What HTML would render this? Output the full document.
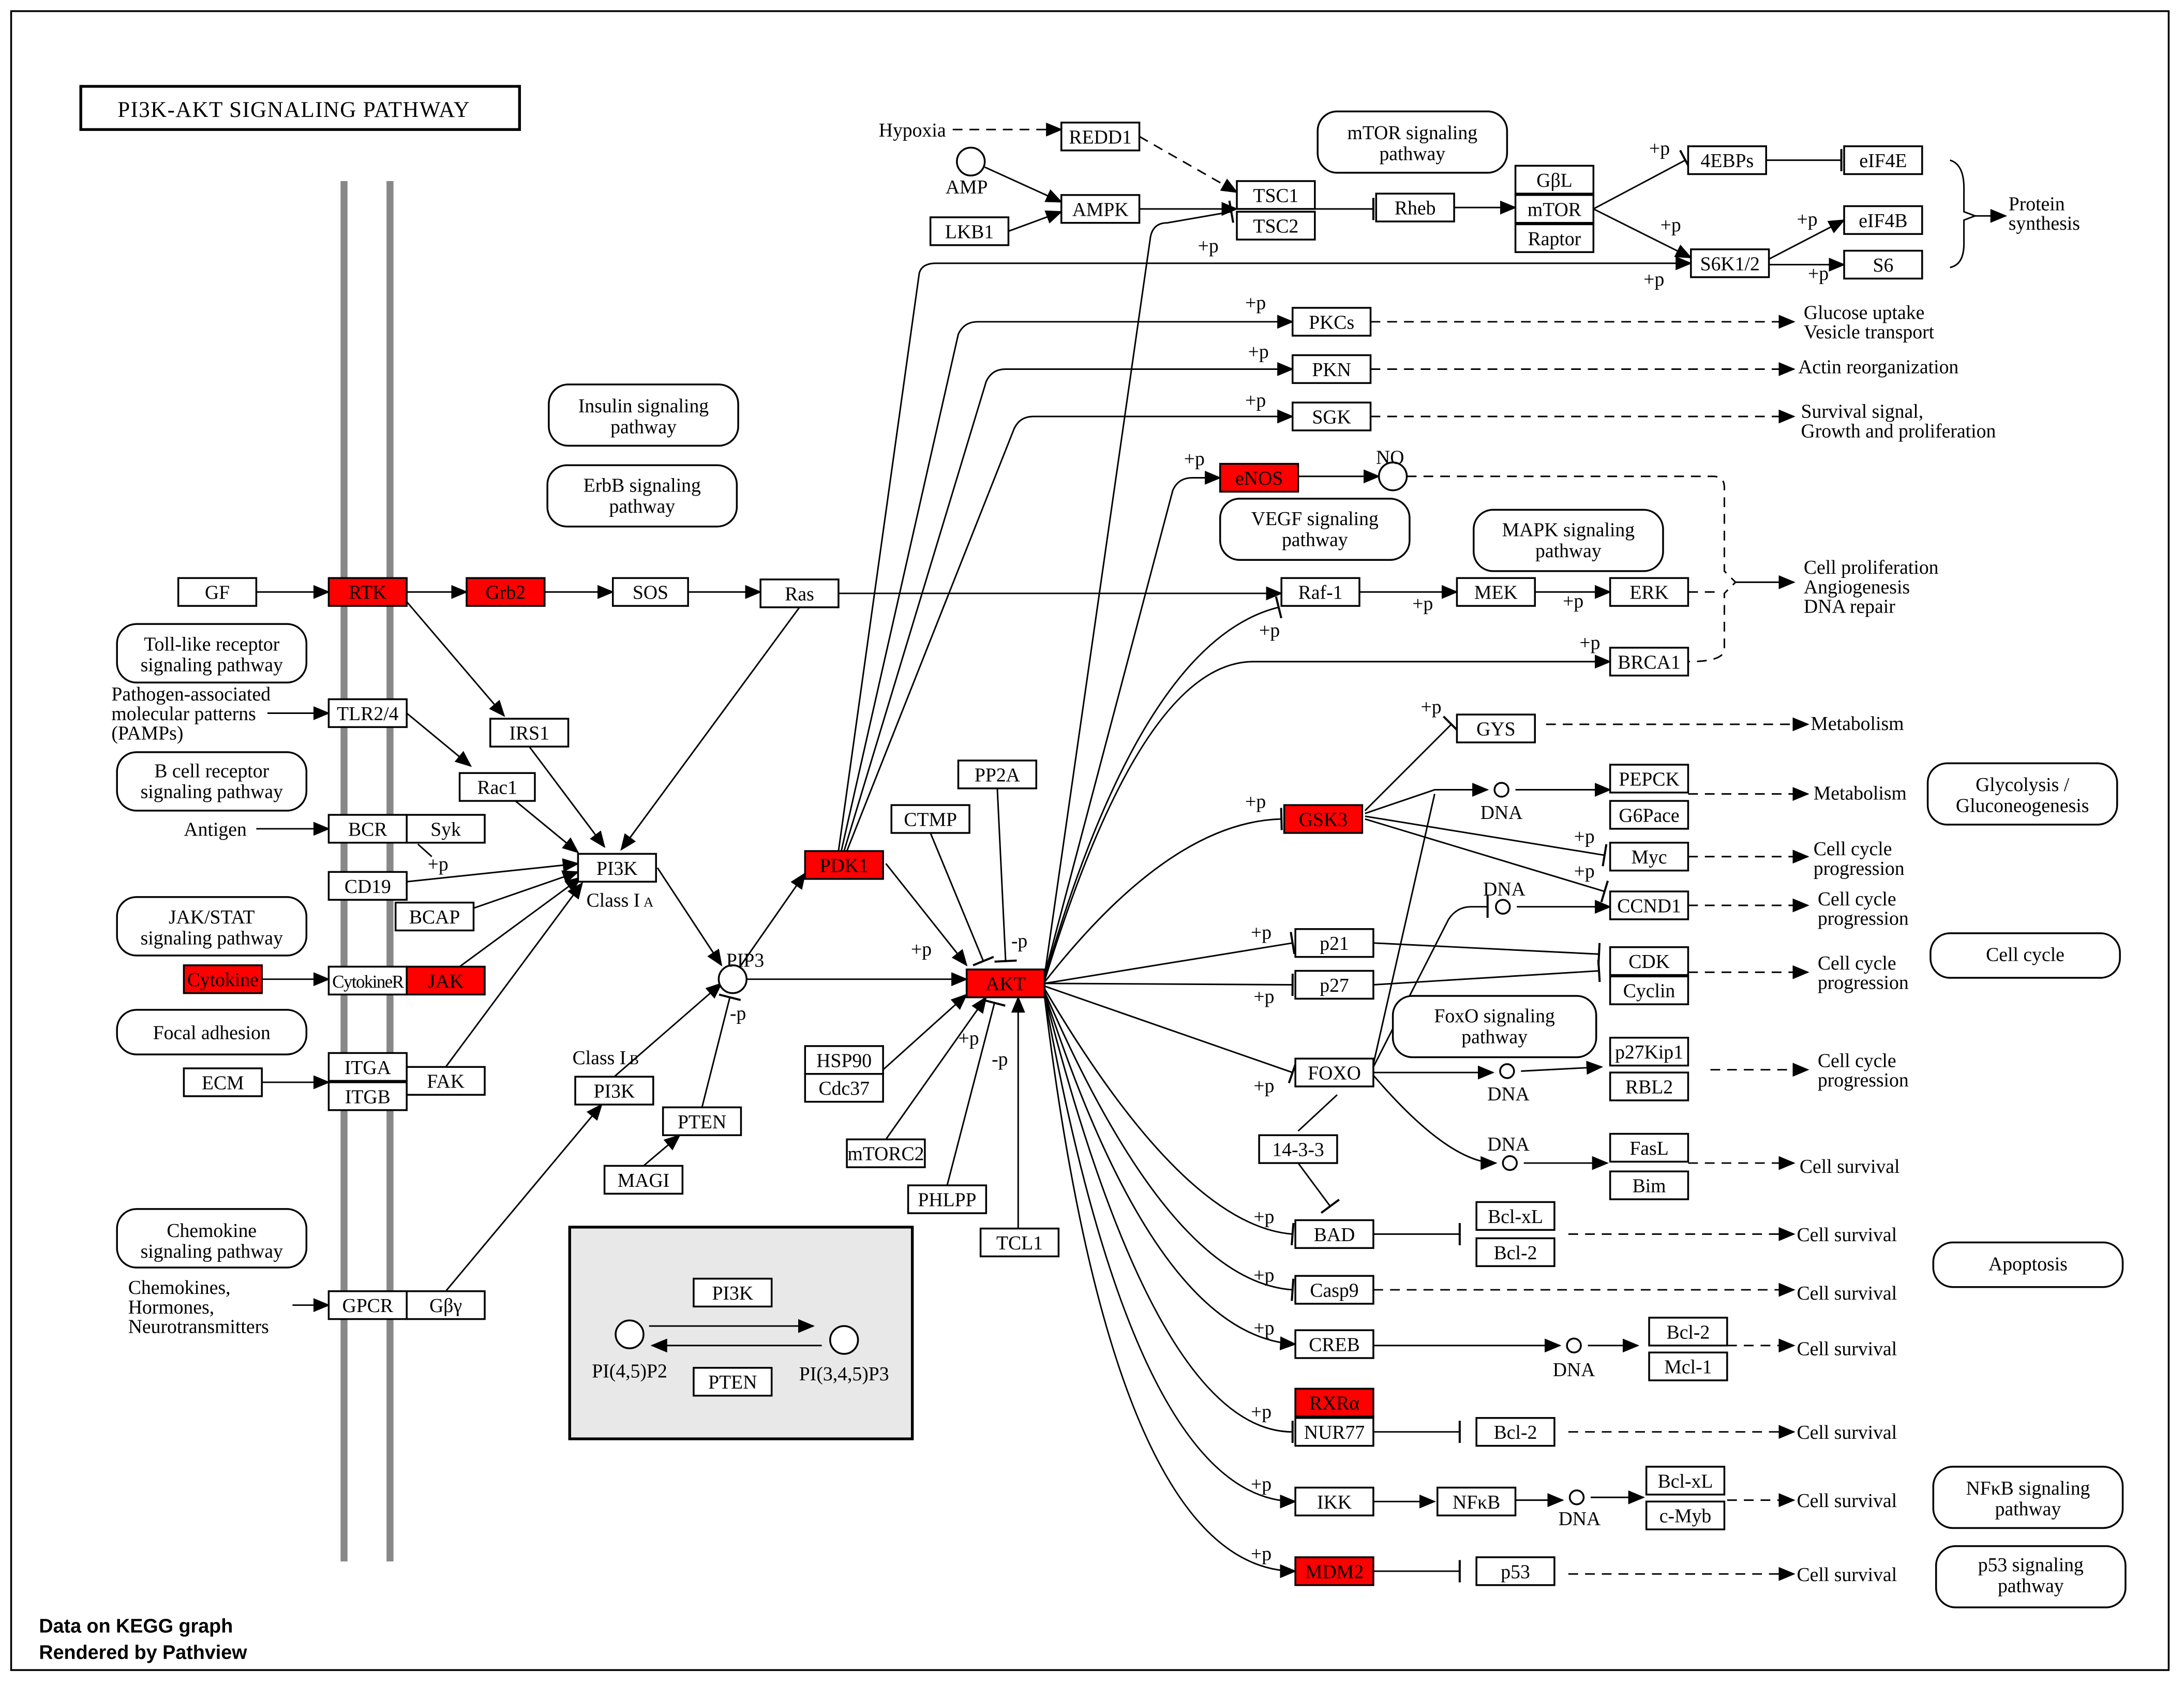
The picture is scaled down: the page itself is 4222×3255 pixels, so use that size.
<!DOCTYPE html>
<html><head><meta charset="utf-8"><style>
html,body{margin:0;padding:0;background:#fff}
svg{display:block}
text{font-family:"Liberation Serif",serif;font-size:14px;fill:#000}
.c{text-anchor:middle}
rect.b{fill:#fff;stroke:#000;stroke-width:1.3}
rect.r{fill:#f00;stroke:#000;stroke-width:1.3}
rect.p{fill:#fff;stroke:#000;stroke-width:1.3}
.l{fill:none;stroke:#000;stroke-width:1.1}
.d{fill:none;stroke:#000;stroke-width:1.1;stroke-dasharray:7,5}
circle{fill:#fff;stroke:#000;stroke-width:1.3}
</style></head><body>
<svg width="4222" height="3255" viewBox="0 0 1568 1209" preserveAspectRatio="none" xmlns="http://www.w3.org/2000/svg">
<defs>
<marker id="a" markerUnits="userSpaceOnUse" markerWidth="12" markerHeight="10" refX="11" refY="5" orient="auto"><path d="M0,0 L12,5 L0,10 z" fill="#000"/></marker>
<marker id="t" markerUnits="userSpaceOnUse" markerWidth="4" markerHeight="16" refX="2" refY="8" orient="auto"><path d="M2,0 L2,16" stroke="#000" stroke-width="1.5"/></marker>
</defs>
<rect x="0" y="0" width="1568" height="1209" fill="#fff"/>
<rect x="8" y="8" width="1549" height="1191" fill="none" stroke="#000" stroke-width="1.3"/>
<rect x="58" y="62" width="315" height="31" fill="#fff" stroke="#000" stroke-width="2"/>
<text x="211" y="84" class="c" style="font-size:16px;letter-spacing:0.5px">PI3K-AKT SIGNALING PATHWAY</text>
<line x1="247" y1="130" x2="247" y2="1121" stroke="#888" stroke-width="5"/>
<line x1="280" y1="130" x2="280" y2="1121" stroke="#888" stroke-width="5"/>
<!-- gray box -->
<rect x="409" y="881" width="246" height="152" fill="#e8e8e8" stroke="#000" stroke-width="2"/>

<!-- edges -->
<g class="l">
<path class="l" d="M184,425 H236" marker-end="url(#a)"/>
<path class="l" d="M292,425 H335" marker-end="url(#a)"/>
<path class="l" d="M391,425 H440" marker-end="url(#a)"/>
<path class="l" d="M494,425 H546" marker-end="url(#a)"/>
<path class="l" d="M602,426 H920" marker-end="url(#a)"/>
<path class="l" d="M976,425 H1046" marker-end="url(#a)"/>
<path class="l" d="M1102,425 H1156" marker-end="url(#a)"/>
<path class="l" d="M292,432 L362,514" marker-end="url(#a)"/>
<path class="l" d="M380,536 L434,608" marker-end="url(#a)"/>
<path class="l" d="M574,436 L446,610" marker-end="url(#a)"/>
<path class="l" d="M292,512 L338,550" marker-end="url(#a)"/>
<path class="l" d="M370,575 L415,612" marker-end="url(#a)"/>
<path class="l" d="M192,512 H236" marker-end="url(#a)"/>
<path class="l" d="M184,595 H236" marker-end="url(#a)"/>
<path class="l" d="M292,633 L415,620" marker-end="url(#a)"/>
<path class="l" d="M300,606 L310,615" />
<path class="l" d="M340,652 L415,626" marker-end="url(#a)"/>
<path class="l" d="M330,694 L417,630" marker-end="url(#a)"/>
<path class="l" d="M188,703 H236" marker-end="url(#a)"/>
<path class="l" d="M320,766 L418,634" marker-end="url(#a)"/>
<path class="l" d="M188,777 H236" marker-end="url(#a)"/>
<path class="l" d="M320,927 L432,793" marker-end="url(#a)"/>
<path class="l" d="M210,937 H236" marker-end="url(#a)"/>
<path class="l" d="M472,623 L518,693" marker-end="url(#a)"/>
<path class="l" d="M441,773 L518,706" marker-end="url(#a)"/>
<path class="l" d="M504,795 L524,716" marker-end="url(#t)"/>
<path class="l" d="M462,837 L488,815" marker-end="url(#a)"/>
<path class="l" d="M536,703 H694" marker-end="url(#a)"/>
<path class="l" d="M532,693 L578,627" marker-end="url(#a)"/>
<path class="l" d="M636,620 L694,693" marker-end="url(#a)"/>
<path class="l" d="M668,598 L706,690" marker-end="url(#t)"/>
<path class="l" d="M716,566 L722,690" marker-end="url(#t)"/>
<path class="l" d="M634,768 L694,714" marker-end="url(#a)"/>
<path class="l" d="M636,818 L708,716" marker-end="url(#a)"/>
<path class="l" d="M680,851 L714,720" marker-end="url(#t)"/>
<path class="l" d="M731,882 V716" marker-end="url(#a)"/>
<!-- PDK1 fan -->
<path class="l" d="M602,611 L660,196 Q662,189 672,189 H1214" marker-end="url(#a)"/>
<path class="l" d="M604,611 L688,240 Q692,231 702,231 H928" marker-end="url(#a)"/>
<path class="l" d="M606,611 L708,274 Q712,265 722,265 H928" marker-end="url(#a)"/>
<path class="l" d="M608,611 L728,308 Q732,299 742,299 H928" marker-end="url(#a)"/>
<!-- AKT fan -->
<path class="l" d="M750,700 L826,170 Q828,160 838,160 L884,152" marker-end="url(#t)"/>
<path class="l" d="M750,700 L842,352 Q846,343 856,343 H876" marker-end="url(#a)"/>
<path class="l" d="M750,702 Q820,460 918,436" marker-end="url(#t)"/>
<path class="l" d="M750,704 Q820,475 900,475 H1156" marker-end="url(#a)"/>
<path class="l" d="M750,705 Q840,590 920,588" marker-end="url(#t)"/>
<path class="l" d="M750,706 L928,677" marker-end="url(#t)"/>
<path class="l" d="M750,706 L928,707" marker-end="url(#t)"/>
<path class="l" d="M750,708 L928,770" marker-end="url(#t)"/>
<path class="l" d="M750,710 Q850,880 928,886" marker-end="url(#t)"/>
<path class="l" d="M750,712 Q840,920 928,926" marker-end="url(#t)"/>
<path class="l" d="M750,713 Q830,960 930,965" marker-end="url(#a)"/>
<path class="l" d="M750,714 Q830,1028 928,1028" marker-end="url(#t)"/>
<path class="l" d="M750,715 Q815,1078 930,1078" marker-end="url(#a)"/>
<path class="l" d="M750,716 Q800,1128 930,1128" marker-end="url(#a)"/>
<!-- mTOR area -->
<path class="d" d="M684,93 H762" marker-end="url(#a)"/>
<path class="d" d="M818,98 L888,138" marker-end="url(#a)"/>
<path class="l" d="M707,120 L762,145" marker-end="url(#a)"/>
<path class="l" d="M724,166 L762,152" marker-end="url(#a)"/>
<path class="l" d="M818,150 H888" marker-end="url(#a)"/>
<path class="l" d="M944,150 H986" marker-end="url(#t)"/>
<path class="l" d="M1044,149 H1088" marker-end="url(#a)"/>
<path class="l" d="M1144,150 L1210,115" marker-end="url(#t)"/>
<path class="l" d="M1144,150 L1214,185" marker-end="url(#a)"/>
<path class="l" d="M1268,115 H1322" marker-end="url(#t)"/>
<path class="l" d="M1270,186 L1324,158" marker-end="url(#a)"/>
<path class="l" d="M1270,190 H1324" marker-end="url(#a)"/>
<path class="l" d="M1400,115 Q1410,118 1410,135 V152 L1418,155 L1410,158 V175 Q1410,190 1400,192"/>
<path class="l" d="M1418,155 H1440" marker-end="url(#a)"/>
<!-- dashed outputs -->
<path class="d" d="M984,231 H1288" marker-end="url(#a)"/>
<path class="d" d="M984,265 H1288" marker-end="url(#a)"/>
<path class="d" d="M984,299 H1288" marker-end="url(#a)"/>
<path class="l" d="M932,342 H990" marker-end="url(#a)"/>
<path class="d" d="M1010,342 H1230 Q1238,342 1238,350 V410 L1246,418 L1238,426 V466 Q1238,475 1212,475"/>
<path class="d" d="M1212,425 H1232"/>
<path class="l" d="M1246,418 H1288" marker-end="url(#a)"/>
<path class="d" d="M1110,520 H1298" marker-end="url(#a)"/>
<path class="l" d="M980,582 L1042,520" marker-end="url(#t)"/>
<path class="l" d="M980,584 L1030,567 H1068" marker-end="url(#a)"/>
<path class="l" d="M1088,567 H1156" marker-end="url(#a)"/>
<path class="d" d="M1212,570 H1298" marker-end="url(#a)"/>
<path class="l" d="M980,586 L1152,614" marker-end="url(#t)"/>
<path class="l" d="M980,588 L1152,640" marker-end="url(#t)"/>
<path class="d" d="M1212,615 H1298" marker-end="url(#a)"/>
<path class="d" d="M1212,650 H1298" marker-end="url(#a)"/>
<path class="l" d="M1089,651 H1156" marker-end="url(#a)"/>
<path class="l" d="M986,677 L1148,685" marker-end="url(#t)"/>
<path class="l" d="M986,707 L1148,697" marker-end="url(#t)"/>
<path class="d" d="M1212,698 H1298" marker-end="url(#a)"/>
<path class="l" d="M986,764 L1030,570" />
<path class="l" d="M986,766 L1040,660 Q1046,651 1056,651 H1068" marker-end="url(#t)"/>
<path class="l" d="M986,770 H1072" marker-end="url(#a)"/>
<path class="l" d="M1092,769 L1150,766" marker-end="url(#a)"/>
<path class="d" d="M1228,768 H1298" marker-end="url(#a)"/>
<path class="l" d="M986,772 Q1040,835 1074,835" marker-end="url(#a)"/>
<path class="l" d="M1094,835 H1154" marker-end="url(#a)"/>
<path class="d" d="M1212,835 H1288" marker-end="url(#a)"/>
<path class="l" d="M960,786 L932,812"/>
<path class="l" d="M932,835 L955,866" marker-end="url(#t)"/>
<path class="l" d="M986,886 H1048" marker-end="url(#t)"/>
<path class="d" d="M1126,886 H1288" marker-end="url(#a)"/>
<path class="d" d="M986,926 H1288" marker-end="url(#a)"/>
<path class="l" d="M986,966 H1120" marker-end="url(#a)"/>
<path class="l" d="M1140,966 H1176" marker-end="url(#a)"/>
<path class="d" d="M1240,966 H1288" marker-end="url(#a)"/>
<path class="l" d="M986,1028 H1048" marker-end="url(#t)"/>
<path class="d" d="M1126,1028 H1288" marker-end="url(#a)"/>
<path class="l" d="M986,1078 H1030" marker-end="url(#a)"/>
<path class="l" d="M1088,1077 H1122" marker-end="url(#a)"/>
<path class="l" d="M1142,1075 H1180" marker-end="url(#a)"/>
<path class="d" d="M1240,1077 H1288" marker-end="url(#a)"/>
<path class="l" d="M986,1128 H1048" marker-end="url(#t)"/>
<path class="d" d="M1126,1130 H1288" marker-end="url(#a)"/>
<!-- gray box arrows -->
<path class="l" d="M466,952 H584" marker-end="url(#a)"/>
<path class="l" d="M590,966 H468" marker-end="url(#a)"/>
</g>

<!-- rounded boxes -->
<g>
<rect class="p" x="946" y="80" width="136" height="44" rx="14"/><text x="1014" y="100" class="c">mTOR signaling</text><text x="1014" y="115" class="c">pathway</text>
<rect class="p" x="394" y="276" width="136" height="44" rx="14"/><text x="462" y="296" class="c">Insulin signaling</text><text x="462" y="311" class="c">pathway</text>
<rect class="p" x="393" y="334" width="136" height="44" rx="14"/><text x="461" y="353" class="c">ErbB signaling</text><text x="461" y="368" class="c">pathway</text>
<rect class="p" x="876" y="358" width="136" height="44" rx="14"/><text x="944" y="377" class="c">VEGF signaling</text><text x="944" y="392" class="c">pathway</text>
<rect class="p" x="1058" y="366" width="136" height="44" rx="14"/><text x="1126" y="385" class="c">MAPK signaling</text><text x="1126" y="400" class="c">pathway</text>
<rect class="p" x="1384" y="548" width="136" height="44" rx="14"/><text x="1452" y="568" class="c">Glycolysis /</text><text x="1452" y="583" class="c">Gluconeogenesis</text>
<rect class="p" x="1386" y="670" width="136" height="32" rx="14"/><text x="1454" y="690" class="c">Cell cycle</text>
<rect class="p" x="1000" y="715" width="146" height="44" rx="14"/><text x="1073" y="734" class="c">FoxO signaling</text><text x="1073" y="749" class="c">pathway</text>
<rect class="p" x="1388" y="892" width="136" height="32" rx="14"/><text x="1456" y="912" class="c">Apoptosis</text>
<rect class="p" x="1388" y="1053" width="136" height="44" rx="14"/><text x="1456" y="1073" class="c">NFκB signaling</text><text x="1456" y="1088" class="c">pathway</text>
<rect class="p" x="1390" y="1110" width="136" height="44" rx="14"/><text x="1458" y="1128" class="c">p53 signaling</text><text x="1458" y="1143" class="c">pathway</text>
<rect class="p" x="84" y="448" width="136" height="42" rx="14"/><text x="152" y="467" class="c">Toll-like receptor</text><text x="152" y="482" class="c">signaling pathway</text>
<rect class="p" x="84" y="540" width="136" height="42" rx="14"/><text x="152" y="558" class="c">B cell receptor</text><text x="152" y="573" class="c">signaling pathway</text>
<rect class="p" x="84" y="644" width="136" height="42" rx="14"/><text x="152" y="663" class="c">JAK/STAT</text><text x="152" y="678" class="c">signaling pathway</text>
<rect class="p" x="84" y="725" width="136" height="32" rx="14"/><text x="152" y="746" class="c">Focal adhesion</text>
<rect class="p" x="84" y="868" width="136" height="42" rx="14"/><text x="152" y="888" class="c">Chemokine</text><text x="152" y="903" class="c">signaling pathway</text>
</g>

<!-- boxes -->
<g>
<rect class="b" x="128" y="415" width="56" height="20"/><text x="156" y="430" class="c">GF</text>
<rect class="r" x="236" y="415" width="56" height="20"/><text x="264" y="430" class="c">RTK</text>
<rect class="r" x="335" y="415" width="56" height="20"/><text x="363" y="430" class="c">Grb2</text>
<rect class="b" x="440" y="415" width="54" height="20"/><text x="467" y="430" class="c">SOS</text>
<rect class="b" x="546" y="416" width="56" height="20"/><text x="574" y="431" class="c">Ras</text>
<rect class="b" x="236" y="502" width="56" height="20"/><text x="264" y="517" class="c">TLR2/4</text>
<rect class="b" x="352" y="516" width="56" height="20"/><text x="380" y="531" class="c">IRS1</text>
<rect class="b" x="330" y="555" width="54" height="20"/><text x="357" y="570" class="c">Rac1</text>
<rect class="b" x="236" y="585" width="56" height="20"/><text x="264" y="600" class="c">BCR</text>
<rect class="b" x="292" y="585" width="56" height="20"/><text x="320" y="600" class="c">Syk</text>
<rect class="b" x="236" y="626" width="56" height="20"/><text x="264" y="641" class="c">CD19</text>
<rect class="b" x="284" y="648" width="56" height="20"/><text x="312" y="663" class="c">BCAP</text>
<rect class="b" x="415" y="613" width="56" height="20"/><text x="443" y="628" class="c">PI3K</text>
<rect class="r" x="132" y="693" width="56" height="20"/><text x="160" y="708" class="c">Cytokine</text>
<rect class="b" x="236" y="694" width="56" height="20"/><text x="264" y="709" class="c" style="font-size:13px;letter-spacing:-0.6px">CytokineR</text>
<rect class="r" x="292" y="694" width="56" height="20"/><text x="320" y="709" class="c">JAK</text>
<rect class="b" x="236" y="756" width="56" height="20"/><text x="264" y="771" class="c">ITGA</text>
<rect class="b" x="236" y="777" width="56" height="20"/><text x="264" y="792" class="c">ITGB</text>
<rect class="b" x="292" y="766" width="56" height="20"/><text x="320" y="781" class="c">FAK</text>
<rect class="b" x="132" y="767" width="56" height="20"/><text x="160" y="782" class="c">ECM</text>
<rect class="b" x="236" y="927" width="56" height="20"/><text x="264" y="942" class="c">GPCR</text>
<rect class="b" x="292" y="927" width="56" height="20"/><text x="320" y="942" class="c">Gβγ</text>
<rect class="b" x="413" y="773" width="56" height="20"/><text x="441" y="788" class="c">PI3K</text>
<rect class="b" x="476" y="795" width="56" height="20"/><text x="504" y="810" class="c">PTEN</text>
<rect class="b" x="434" y="837" width="56" height="20"/><text x="462" y="852" class="c">MAGI</text>
<rect class="r" x="578" y="611" width="56" height="20"/><text x="606" y="626" class="c">PDK1</text>
<rect class="b" x="688" y="546" width="56" height="20"/><text x="716" y="561" class="c">PP2A</text>
<rect class="b" x="640" y="578" width="56" height="20"/><text x="668" y="593" class="c">CTMP</text>
<rect class="r" x="694" y="696" width="56" height="20"/><text x="722" y="711" class="c">AKT</text>
<rect class="b" x="578" y="751" width="56" height="20"/><text x="606" y="766" class="c">HSP90</text>
<rect class="b" x="578" y="771" width="56" height="20"/><text x="606" y="786" class="c">Cdc37</text>
<rect class="b" x="608" y="818" width="56" height="20"/><text x="636" y="833" class="c">mTORC2</text>
<rect class="b" x="652" y="851" width="56" height="20"/><text x="680" y="866" class="c">PHLPP</text>
<rect class="b" x="704" y="882" width="56" height="20"/><text x="732" y="897" class="c">TCL1</text>
<rect class="b" x="762" y="88" width="56" height="20"/><text x="790" y="103" class="c">REDD1</text>
<rect class="b" x="668" y="156" width="56" height="20"/><text x="696" y="171" class="c">LKB1</text>
<rect class="b" x="762" y="140" width="56" height="20"/><text x="790" y="155" class="c">AMPK</text>
<rect class="b" x="888" y="130" width="56" height="20"/><text x="916" y="145" class="c">TSC1</text>
<rect class="b" x="888" y="152" width="56" height="20"/><text x="916" y="167" class="c">TSC2</text>
<rect class="b" x="988" y="139" width="56" height="20"/><text x="1016" y="154" class="c">Rheb</text>
<rect class="b" x="1088" y="119" width="56" height="20"/><text x="1116" y="134" class="c">GβL</text>
<rect class="b" x="1088" y="140" width="56" height="20"/><text x="1116" y="155" class="c">mTOR</text>
<rect class="b" x="1088" y="161" width="56" height="20"/><text x="1116" y="176" class="c">Raptor</text>
<rect class="b" x="1212" y="105" width="56" height="20"/><text x="1240" y="120" class="c">4EBPs</text>
<rect class="b" x="1324" y="105" width="56" height="20"/><text x="1352" y="120" class="c">eIF4E</text>
<rect class="b" x="1324" y="148" width="56" height="20"/><text x="1352" y="163" class="c">eIF4B</text>
<rect class="b" x="1324" y="180" width="56" height="20"/><text x="1352" y="195" class="c">S6</text>
<rect class="b" x="1214" y="179" width="56" height="20"/><text x="1242" y="194" class="c">S6K1/2</text>
<rect class="b" x="928" y="221" width="56" height="20"/><text x="956" y="236" class="c">PKCs</text>
<rect class="b" x="928" y="255" width="56" height="20"/><text x="956" y="270" class="c">PKN</text>
<rect class="b" x="928" y="289" width="56" height="20"/><text x="956" y="304" class="c">SGK</text>
<rect class="r" x="876" y="333" width="56" height="20"/><text x="904" y="348" class="c">eNOS</text>
<rect class="b" x="920" y="415" width="56" height="20"/><text x="948" y="430" class="c">Raf-1</text>
<rect class="b" x="1046" y="415" width="56" height="20"/><text x="1074" y="430" class="c">MEK</text>
<rect class="b" x="1156" y="415" width="56" height="20"/><text x="1184" y="430" class="c">ERK</text>
<rect class="b" x="1156" y="465" width="56" height="20"/><text x="1184" y="480" class="c">BRCA1</text>
<rect class="b" x="1046" y="513" width="56" height="20"/><text x="1074" y="528" class="c">GYS</text>
<rect class="r" x="922" y="578" width="56" height="20"/><text x="950" y="593" class="c">GSK3</text>
<rect class="b" x="1156" y="549" width="56" height="20"/><text x="1184" y="564" class="c">PEPCK</text>
<rect class="b" x="1156" y="575" width="56" height="20"/><text x="1184" y="590" class="c">G6Pace</text>
<rect class="b" x="1156" y="605" width="56" height="20"/><text x="1184" y="620" class="c">Myc</text>
<rect class="b" x="1156" y="640" width="56" height="20"/><text x="1184" y="655" class="c">CCND1</text>
<rect class="b" x="930" y="667" width="56" height="20"/><text x="958" y="682" class="c">p21</text>
<rect class="b" x="930" y="697" width="56" height="20"/><text x="958" y="712" class="c">p27</text>
<rect class="b" x="1156" y="680" width="56" height="20"/><text x="1184" y="695" class="c">CDK</text>
<rect class="b" x="1156" y="701" width="56" height="20"/><text x="1184" y="716" class="c">Cyclin</text>
<rect class="b" x="1156" y="745" width="56" height="20"/><text x="1184" y="760" class="c">p27Kip1</text>
<rect class="b" x="1156" y="770" width="56" height="20"/><text x="1184" y="785" class="c">RBL2</text>
<rect class="b" x="930" y="760" width="56" height="20"/><text x="958" y="775" class="c">FOXO</text>
<rect class="b" x="904" y="815" width="56" height="20"/><text x="932" y="830" class="c">14-3-3</text>
<rect class="b" x="1156" y="814" width="56" height="20"/><text x="1184" y="829" class="c">FasL</text>
<rect class="b" x="1156" y="841" width="56" height="20"/><text x="1184" y="856" class="c">Bim</text>
<rect class="b" x="930" y="876" width="56" height="20"/><text x="958" y="891" class="c">BAD</text>
<rect class="b" x="1060" y="863" width="56" height="20"/><text x="1088" y="878" class="c">Bcl-xL</text>
<rect class="b" x="1060" y="889" width="56" height="20"/><text x="1088" y="904" class="c">Bcl-2</text>
<rect class="b" x="930" y="916" width="56" height="20"/><text x="958" y="931" class="c">Casp9</text>
<rect class="b" x="930" y="955" width="56" height="20"/><text x="958" y="970" class="c">CREB</text>
<rect class="b" x="1184" y="946" width="56" height="20"/><text x="1212" y="961" class="c">Bcl-2</text>
<rect class="b" x="1184" y="971" width="56" height="20"/><text x="1212" y="986" class="c">Mcl-1</text>
<rect class="r" x="930" y="997" width="56" height="20"/><text x="958" y="1012" class="c">RXRα</text>
<rect class="b" x="930" y="1018" width="56" height="20"/><text x="958" y="1033" class="c">NUR77</text>
<rect class="b" x="1060" y="1018" width="56" height="20"/><text x="1088" y="1033" class="c">Bcl-2</text>
<rect class="b" x="930" y="1068" width="56" height="20"/><text x="958" y="1083" class="c">IKK</text>
<rect class="b" x="1032" y="1068" width="56" height="20"/><text x="1060" y="1083" class="c">NFκB</text>
<rect class="b" x="1182" y="1053" width="56" height="20"/><text x="1210" y="1068" class="c">Bcl-xL</text>
<rect class="b" x="1182" y="1078" width="56" height="20"/><text x="1210" y="1093" class="c">c-Myb</text>
<rect class="r" x="930" y="1118" width="56" height="20"/><text x="958" y="1133" class="c">MDM2</text>
<rect class="b" x="1060" y="1118" width="56" height="20"/><text x="1088" y="1133" class="c">p53</text>
<rect class="b" x="498" y="918" width="56" height="20"/><text x="526" y="933" class="c">PI3K</text>
<rect class="b" x="498" y="982" width="56" height="20"/><text x="526" y="997" class="c">PTEN</text>
</g>

<!-- circles -->
<circle cx="526" cy="703" r="10"/>
<circle cx="697" cy="116" r="10"/>
<circle cx="1000" cy="342" r="10"/>
<circle cx="1078" cy="567" r="5"/>
<circle cx="1079" cy="651" r="5"/>
<circle cx="1082" cy="769" r="5"/>
<circle cx="1084" cy="835" r="5"/>
<circle cx="1130" cy="966" r="5"/>
<circle cx="1132" cy="1075" r="5"/>
<circle cx="452" cy="958" r="10"/>
<circle cx="606" cy="962" r="10"/>

<!-- labels -->
<g>
<text x="655" y="98" class="c">Hypoxia</text>
<text x="694" y="139" class="c">AMP</text>
<text x="998" y="333" class="c">NO</text>
<text x="535" y="694" class="c">PIP3</text>
<text x="421" y="651">Class I</text><text x="462" y="651" style="font-size:10px">A</text>
<text x="411" y="764">Class I</text><text x="452" y="764" style="font-size:10px">B</text>
<text x="1078" y="588" class="c">DNA</text>
<text x="1080" y="643" class="c">DNA</text>
<text x="1083" y="790" class="c">DNA</text>
<text x="1083" y="826" class="c">DNA</text>
<text x="1130" y="988" class="c">DNA</text>
<text x="1134" y="1095" class="c">DNA</text>
<text x="452" y="989" class="c">PI(4,5)P2</text>
<text x="606" y="991" class="c">PI(3,4,5)P3</text>
<text x="1442" y="151">Protein</text><text x="1442" y="165">synthesis</text>
<text x="1295" y="229">Glucose uptake</text><text x="1295" y="243">Vesicle transport</text>
<text x="1291" y="268">Actin reorganization</text>
<text x="1293" y="300">Survival signal,</text><text x="1293" y="314">Growth and proliferation</text>
<text x="1295" y="412">Cell proliferation</text><text x="1295" y="426">Angiogenesis</text><text x="1295" y="440">DNA repair</text>
<text x="1300" y="524">Metabolism</text>
<text x="1302" y="574">Metabolism</text>
<text x="1302" y="614">Cell cycle</text><text x="1302" y="628">progression</text>
<text x="1305" y="650">Cell cycle</text><text x="1305" y="664">progression</text>
<text x="1305" y="696">Cell cycle</text><text x="1305" y="710">progression</text>
<text x="1305" y="766">Cell cycle</text><text x="1305" y="780">progression</text>
<text x="1292" y="842">Cell survival</text>
<text x="1290" y="891">Cell survival</text>
<text x="1290" y="933">Cell survival</text>
<text x="1290" y="973">Cell survival</text>
<text x="1290" y="1033">Cell survival</text>
<text x="1290" y="1082">Cell survival</text>
<text x="1290" y="1135">Cell survival</text>
<text x="80" y="503">Pathogen-associated</text><text x="80" y="517">molecular patterns</text><text x="80" y="531">(PAMPs)</text>
<text x="132" y="600">Antigen</text>
<text x="92" y="929">Chemokines,</text><text x="92" y="943">Hormones,</text><text x="92" y="957">Neurotransmitters</text>
<text x="1184" y="111">+p</text><text x="1192" y="166">+p</text><text x="1290" y="162">+p</text><text x="1298" y="201">+p</text><text x="1180" y="205">+p</text>
<text x="860" y="181">+p</text><text x="894" y="222">+p</text><text x="896" y="257">+p</text><text x="894" y="292">+p</text><text x="850" y="334">+p</text>
<text x="904" y="457">+p</text><text x="1014" y="438">+p</text><text x="1122" y="436">+p</text><text x="1134" y="466">+p</text>
<text x="1020" y="512">+p</text><text x="894" y="580">+p</text><text x="1130" y="605">+p</text><text x="1130" y="630">+p</text>
<text x="898" y="674">+p</text><text x="900" y="720">+p</text><text x="900" y="784">+p</text><text x="900" y="878">+p</text>
<text x="900" y="920">+p</text><text x="900" y="958">+p</text><text x="898" y="1018">+p</text><text x="898" y="1070">+p</text><text x="898" y="1120">+p</text>
<text x="307" y="625">+p</text><text x="654" y="686">+p</text><text x="688" y="750">+p</text><text x="726" y="680">-p</text><text x="712" y="765">-p</text><text x="524" y="732">-p</text>
</g>
<text x="28" y="1172" style="font-family:'Liberation Sans',sans-serif;font-weight:bold;font-size:14px">Data on KEGG graph</text>
<text x="28" y="1191" style="font-family:'Liberation Sans',sans-serif;font-weight:bold;font-size:14px">Rendered by Pathview</text>
</svg>
</body></html>
